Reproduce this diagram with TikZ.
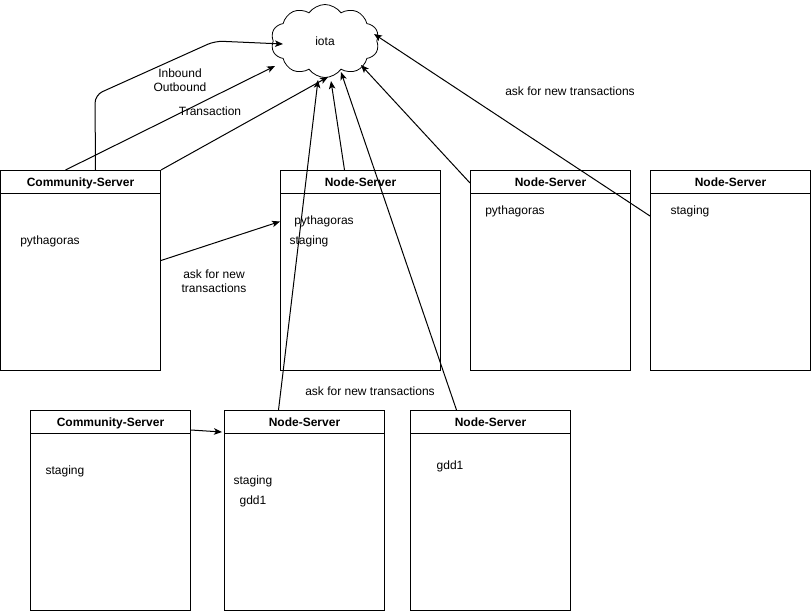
\documentclass[tikz,border=0pt]{standalone}
\usepackage{fontspec}
\setmainfont{Liberation Sans}
\usetikzlibrary{shapes.symbols,calc,arrows.meta}
\begin{document}
\begin{tikzpicture}[>={Stealth[length=8pt,width=6.5pt,inset=2pt]},x=1pt,y=-1pt,line width=1pt,
  font=\fontsize{12pt}{14pt}\selectfont,
  server/.style={draw,minimum width=160pt,minimum height=200pt,inner sep=0pt,
    label={[anchor=north,yshift=-7pt,inner sep=0pt,font=\fontsize{12pt}{14pt}\selectfont\bfseries]north:#1},
    path picture={\draw ([yshift=-23pt]path picture bounding box.north west)--([yshift=-23pt]path picture bounding box.north east);}},
  txt/.style={inner sep=0pt,align=center}]
\useasboundingbox (0,0) rectangle (811,611);
% servers
\node[server=Community-Server] (cs1) at (80.5,270.5) {};
\node[server=Node-Server] (ns1) at (360.5,270.5) {};
\node[server=Node-Server] (ns2) at (550.5,270.5) {};
\node[server=Node-Server] (ns3) at (730.5,270.5) {};
\node[server=Community-Server] (cs2) at (110.5,510.5) {};
\node[server=Node-Server] (ns4) at (304.5,510.5) {};
\node[server=Node-Server] (ns5) at (490.5,510.5) {};
\node[draw,line width=.8pt,cloud,cloud puffs=10,cloud puff arc=110,aspect=1.5,
  minimum width=108pt,minimum height=73pt,inner sep=0pt] (iota) at (325,41) {iota};
% contents
\node[txt] (p1) at (50,241) {pythagoras};
\node[txt] (p2) at (324,221) {pythagoras};
\node[txt] (s2) at (309,241) {staging};
\node[txt] (p3) at (515,211) {pythagoras};
\node[txt] (s4) at (690,211) {staging};
\node[txt] (s5) at (65,471) {staging};
\node[txt] (s6) at (253,481) {staging};
\node[txt] (g6) at (253,501) {gdd1};
\node[txt] (g7) at (450,466) {gdd1};
% labels
\node[txt] (io) at (180,80) {Inbound\\Outbound};
\node[txt] (tr) at (210,111) {Transaction};
\node[txt] (ask1) at (214,281) {ask for new\\transactions};
\node[txt] (ask2) at (570,91) {ask for new transactions};
\node[txt] (ask3) at (370,391) {ask for new transactions};
% connectors
\draw[->,rounded corners=8pt] ($(cs1.north)+(15,0)$)--(95,95)--(215,41)--($(iota.center)+(-42,3)$);
\draw[->] ($(cs1.north)+(-15,0)$)--($(iota.center)+(-50,25)$);
\draw[->] (cs1.north east)--($(iota.center)+(3,36)$);
\draw[->] ($(cs1.east)+(0,-10)$)--($(ns1.west)+(0,-49)$);
\draw[->] ($(ns1.north)+(-16,0)$)--($(iota.center)+(6,40)$);
\draw[->] ($(ns2.north west)+(0,13)$)--($(iota.center)+(36,24)$);
\draw[->] ($(ns3.north west)+(0,46)$)--($(iota.center)+(49,-7)$);
\draw[->] ($(ns4.north)+(-26,0)$)--($(iota.center)+(-7,39)$);
\draw[->] ($(ns5.north)+(-34,0)$)--($(iota.center)+(16,31)$);
\draw[->] ($(cs2.north east)+(0,20)$)--($(ns4.north west)+(-2,22)$);
\end{tikzpicture}
\end{document}
